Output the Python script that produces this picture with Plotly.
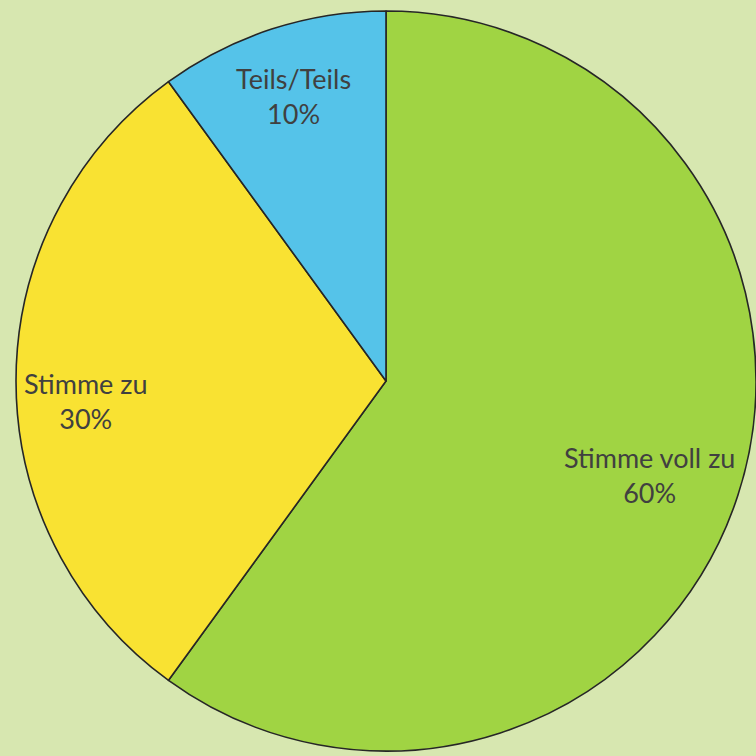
import math
import plotly.graph_objects as go

labels = ["Stimme voll zu", "Stimme zu", "Teils/Teils"]
values = [60, 30, 10]
colors = ["#a0d443", "#f9e232", "#55c3e9"]

W = H = 756
cx_px, cy_px, r_px = 386, 381, 370
dom_x = [(cx_px - r_px) / W, (cx_px + r_px) / W]
dom_y = [1 - (cy_px + r_px) / H, 1 - (cy_px - r_px) / H]

fig = go.Figure(go.Pie(
    labels=labels,
    values=values,
    sort=False,
    direction="clockwise",
    rotation=0,
    marker=dict(colors=colors, line=dict(color="#262626", width=1.6)),
    textinfo="none",
    domain=dict(x=dom_x, y=dom_y),
    showlegend=False,
    hoverinfo="label+percent",
))

# labels placed at slice mid-angles (computed from the data)
label_radius = [0.75, 0.81, 0.81]
label_yshift = [-8, -20, 0]
total = sum(values)
cum = 0
for lab, v, rf, ys in zip(labels, values, label_radius, label_yshift):
    mid = (cum + v / 2) / total * 2 * math.pi  # clockwise from top
    cum += v
    x_px = cx_px + rf * r_px * math.sin(mid)
    y_px = cy_px - rf * r_px * math.cos(mid)
    fig.add_annotation(
        x=x_px / W, y=1 - y_px / H, xref="paper", yref="paper",
        text=f"{lab}<br>{round(v / total * 100)}%",
        showarrow=False, xanchor="center", yanchor="middle", yshift=ys,
        font=dict(family="Lato, sans-serif", size=27, color="#404040"),
    )

fig.update_layout(
    width=W, height=H,
    margin=dict(l=0, r=0, t=0, b=0),
    paper_bgcolor="#d7e7b0",
    plot_bgcolor="#d7e7b0",
)

fig.write_html(
    "out.html",
    config={"displayModeBar": False},
    post_script="document.body.style.margin='0';document.body.style.background='#d7e7b0';",
)
